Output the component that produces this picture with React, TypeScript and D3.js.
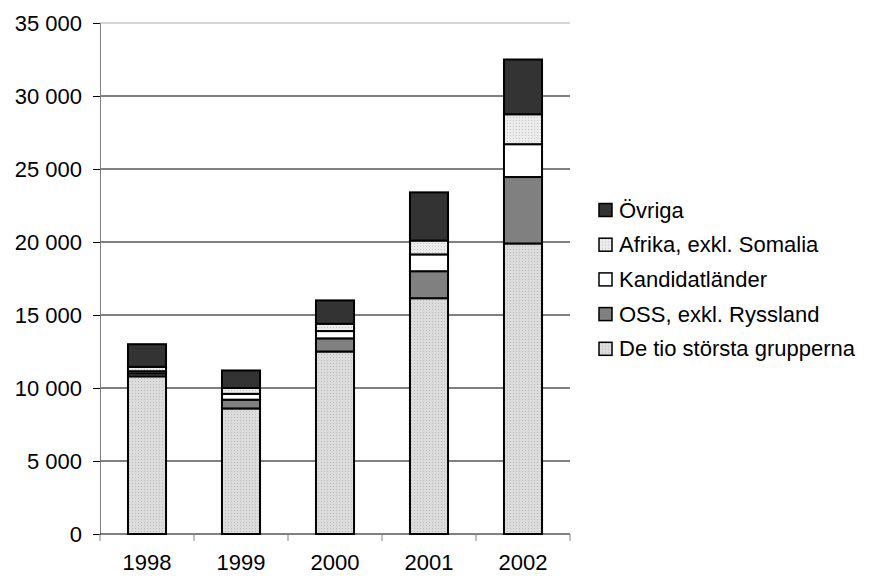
import { useEffect, useRef } from "react";
import * as d3 from "d3";

const years = ["1998", "1999", "2000", "2001", "2002"];
const deTio = [10800, 8600, 12500, 16150, 19900];
const oss = [200, 600, 900, 1850, 4550];
const kandidat = [150, 400, 500, 1150, 2250];
const afrika = [300, 400, 500, 950, 2050];
const ovriga = [1550, 1200, 1600, 3300, 3750];
const yTicks = [0, 5000, 10000, 15000, 20000, 25000, 30000, 35000];

const seriesNames = ["De tio största grupperna", "OSS, exkl. Ryssland", "Kandidatländer", "Afrika, exkl. Somalia", "Övriga"];
const fills = ["url(#dotsA)", "#808080", "#ffffff", "url(#dotsB)", "#333333"];

const App = () => {
    const ref = useRef<SVGSVGElement>(null);

    useEffect(() => {
        const svg = d3.select(ref.current);
        svg.selectAll("*").remove();

        const left = 100, right = 570, top = 23, bottom = 534;
        const x = d3.scaleBand().domain(years).range([left, right]).paddingInner(0.595).paddingOuter(0.2975);
        const y = d3.scaleLinear().domain([0, 35000]).range([bottom, top]);

        const defs = svg.append("defs");
        const patA = defs.append("pattern").attr("id", "dotsA").attr("width", 3).attr("height", 3).attr("patternUnits", "userSpaceOnUse");
        patA.append("rect").attr("width", 3).attr("height", 3).attr("fill", "#dcdcdc");
        patA.append("rect").attr("width", 1).attr("height", 1).attr("fill", "#bcbcbc");
        const patB = defs.append("pattern").attr("id", "dotsB").attr("width", 3).attr("height", 3).attr("patternUnits", "userSpaceOnUse");
        patB.append("rect").attr("width", 3).attr("height", 3).attr("fill", "#ececec");
        patB.append("rect").attr("width", 1).attr("height", 1).attr("fill", "#c4c4c4");

        const font = "'Liberation Sans', Arial, sans-serif";

        // gridlines
        svg.append("g").selectAll("line").data(yTicks.filter(d => d > 0)).enter().append("line")
            .attr("x1", left).attr("x2", right)
            .attr("y1", d => y(d)).attr("y2", d => y(d))
            .attr("stroke", d => d === 35000 ? "#aaaaaa" : "#000").attr("stroke-width", 1);

        // y axis
        const yAxis = svg.append("g").attr("transform", `translate(${left},0)`)
            .call(d3.axisLeft(y).tickValues(yTicks).tickSize(7).tickPadding(11)
                .tickFormat(d => d3.format(",")(d as number).replace(/,/g, " ")));
        yAxis.select(".domain").attr("stroke", "#808080");
        yAxis.selectAll(".tick line").attr("stroke", "#000");
        yAxis.selectAll("text").attr("font-family", font).attr("font-size", 22).attr("fill", "#000");

        // bars
        const rows = years.map((yr, i) => ({ year: yr, s0: deTio[i], s1: oss[i], s2: kandidat[i], s3: afrika[i], s4: ovriga[i] }));
        const stack = d3.stack<any>().keys(["s0", "s1", "s2", "s3", "s4"])(rows);
        stack.forEach((layer, k) => {
            svg.append("g").selectAll("rect").data(layer).enter().append("rect")
                .attr("x", d => x(d.data.year)!)
                .attr("width", x.bandwidth())
                .attr("y", d => y(d[1]))
                .attr("height", d => y(d[0]) - y(d[1]))
                .attr("fill", fills[k])
                .attr("stroke", "#000").attr("stroke-width", 2);
        });

        // x axis
        svg.append("line").attr("x1", left).attr("x2", right).attr("y1", bottom).attr("y2", bottom).attr("stroke", "#000");
        const step = (right - left) / years.length;
        svg.append("g").selectAll("line").data(d3.range(years.length + 1)).enter().append("line")
            .attr("x1", i => left + i * step).attr("x2", i => left + i * step)
            .attr("y1", bottom).attr("y2", bottom + 7).attr("stroke", "#808080");
        svg.append("g").selectAll("text").data(years).enter().append("text")
            .attr("x", d => x(d)! + x.bandwidth() / 2).attr("y", 570)
            .attr("text-anchor", "middle").attr("font-family", font).attr("font-size", 22).text(d => d);

        // legend
        const legendOrder = [4, 3, 2, 1, 0];
        const lg = svg.append("g").selectAll("g").data(legendOrder).enter().append("g")
            .attr("transform", (_d, i) => `translate(599,${210 + i * 34.7})`);
        lg.append("rect").attr("x", 0).attr("y", -6.5).attr("width", 13).attr("height", 13)
            .attr("fill", k => fills[k]).attr("stroke", "#000").attr("stroke-width", 1.5);
        lg.append("text").attr("x", 20).attr("y", 7.5).attr("font-family", font).attr("font-size", 22)
            .text(k => seriesNames[k]);
    }, []);

    return <svg ref={ref} width={872} height={576} style={{ position: "absolute", left: 0, top: 0 }} />;
};

export default App;
